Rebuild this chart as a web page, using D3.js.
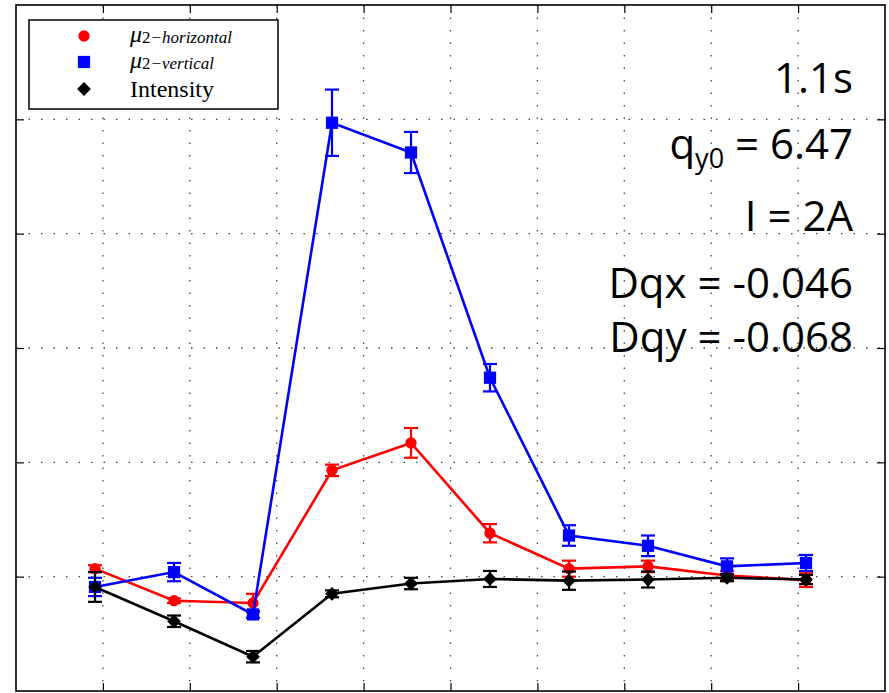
<!DOCTYPE html>
<html>
<head>
<meta charset="utf-8">
<script src="https://cdn.jsdelivr.net/npm/d3@7"></script>
<style>
  body { margin: 0; background: #fff; }
  .grid line { stroke: #444; stroke-width: 1.3; stroke-dasharray: 1.5 11; }
</style>
</head>
<body>
<div id="chart"></div>
<script>
// plot box inside the 889x693 window
const MARGINS = { left: 16, right: 4, top: 5, bottom: 2 };
const FRAME_WIDTH = 889;
const FRAME_HEIGHT = 693;
const VIS_WIDTH = FRAME_WIDTH - MARGINS.left - MARGINS.right;
const VIS_HEIGHT = FRAME_HEIGHT - MARGINS.top - MARGINS.bottom;

// data
const X_VALUES = [1, 2, 3, 4, 5, 6, 7, 8, 9, 10];
const HORIZONTAL = [0.07, -0.21, -0.23, 0.93, 1.17, 0.38, 0.07, 0.09, 0.01, -0.03];
const HORIZONTAL_ERR = [0.03, 0.02, 0.08, 0.05, 0.13, 0.08, 0.07, 0.05, 0.04, 0.06];
const VERTICAL = [-0.09, 0.04, -0.33, 3.97, 3.71, 1.74, 0.36, 0.27, 0.09, 0.12];
const VERTICAL_ERR = [0.08, 0.08, 0.03, 0.29, 0.18, 0.12, 0.09, 0.09, 0.07, 0.07];
const INTENSITY = [-0.09, -0.39, -0.70, -0.15, -0.06, -0.02, -0.035, -0.025, -0.01, -0.025];
const INTENSITY_ERR = [0.13, 0.05, 0.05, 0.03, 0.05, 0.07, 0.08, 0.07, 0.03, 0.04];

const X_TICKS = [1.1, 2.2, 3.3, 4.4, 5.5, 6.6, 7.7, 8.8, 9.9];
const Y_TICKS = [0, 1, 2, 3, 4];

const ANNOTATIONS = ["1.1s", "q_y0 = 6.47", "I = 2A", "Dqx = -0.046", "Dqy = -0.068"];

const FRAME = d3.select("#chart")
    .append("svg")
    .attr("width", FRAME_WIDTH)
    .attr("height", FRAME_HEIGHT);

const xScale = d3.scaleLinear().domain([0, 11]).range([0, VIS_WIDTH]);
const yScale = d3.scaleLinear().domain([-1, 5]).range([VIS_HEIGHT, 0]);

const PLOT = FRAME.append("g")
    .attr("transform", "translate(" + MARGINS.left + "," + MARGINS.top + ")");

// dotted grid
PLOT.append("g").attr("class", "grid")
    .selectAll("line.v").data(X_TICKS).enter().append("line")
    .attr("x1", d => xScale(d)).attr("x2", d => xScale(d))
    .attr("y1", 0).attr("y2", VIS_HEIGHT);
PLOT.append("g").attr("class", "grid")
    .selectAll("line.h").data(Y_TICKS).enter().append("line")
    .attr("y1", d => yScale(d)).attr("y2", d => yScale(d))
    .attr("x1", 0).attr("x2", VIS_WIDTH);

// axes with inward ticks, no labels
function tickAxis(axis, transform) {
    PLOT.append("g")
        .attr("transform", transform)
        .call(axis.tickSize(-8).tickFormat(""))
        .call(g => g.select(".domain").remove())
        .selectAll("line").attr("stroke", "#000").attr("stroke-width", 1.2);
}
tickAxis(d3.axisBottom(xScale).tickValues(X_TICKS), "translate(0," + VIS_HEIGHT + ")");
tickAxis(d3.axisTop(xScale).tickValues(X_TICKS), "translate(0,0)");
tickAxis(d3.axisLeft(yScale).tickValues(Y_TICKS), "translate(0,0)");
tickAxis(d3.axisRight(yScale).tickValues(Y_TICKS), "translate(" + VIS_WIDTH + ",0)");

PLOT.append("rect")
    .attr("width", VIS_WIDTH).attr("height", VIS_HEIGHT)
    .attr("fill", "none").attr("stroke", "#000").attr("stroke-width", 1.6);

// diamond = square turned 45 degrees
const SERIES = [
    { name: "horizontal", values: HORIZONTAL, err: HORIZONTAL_ERR, color: "#ff0000", symbol: d3.symbolCircle, size: 100, rot: 0 },
    { name: "vertical", values: VERTICAL, err: VERTICAL_ERR, color: "#0000ff", symbol: d3.symbolSquare, size: 150, rot: 0 },
    { name: "Intensity", values: INTENSITY, err: INTENSITY_ERR, color: "#000000", symbol: d3.symbolSquare, size: 95, rot: 45 }
];

const line = d3.line().x(d => xScale(d.x)).y(d => yScale(d.y));

SERIES.forEach(s => {
    const pts = X_VALUES.map((x, i) => ({ x: x, y: s.values[i], e: s.err[i] }));
    const g = PLOT.append("g");

    // error bars
    const eb = g.selectAll(".err").data(pts).enter().append("g")
        .attr("stroke", s.color).attr("stroke-width", 2.2);
    eb.append("line")
        .attr("x1", d => xScale(d.x)).attr("x2", d => xScale(d.x))
        .attr("y1", d => yScale(d.y - d.e)).attr("y2", d => yScale(d.y + d.e));
    eb.append("line")
        .attr("x1", d => xScale(d.x) - 7).attr("x2", d => xScale(d.x) + 7)
        .attr("y1", d => yScale(d.y + d.e)).attr("y2", d => yScale(d.y + d.e));
    eb.append("line")
        .attr("x1", d => xScale(d.x) - 7).attr("x2", d => xScale(d.x) + 7)
        .attr("y1", d => yScale(d.y - d.e)).attr("y2", d => yScale(d.y - d.e));

    g.append("path").datum(pts)
        .attr("d", line)
        .attr("fill", "none").attr("stroke", s.color).attr("stroke-width", 2.6);

    g.selectAll(".mark").data(pts).enter().append("path")
        .attr("d", d3.symbol().type(s.symbol).size(s.size))
        .attr("transform", d => "translate(" + xScale(d.x) + "," + yScale(d.y) + ") rotate(" + s.rot + ")")
        .attr("fill", s.color);
});

// legend
const LEGEND = FRAME.append("g");
LEGEND.append("rect")
    .attr("x", 29).attr("y", 20).attr("width", 249).attr("height", 89)
    .attr("fill", "#fff").attr("stroke", "#000").attr("stroke-width", 1.5);

const legendRows = [36, 62, 89];
SERIES.forEach((s, i) => {
    LEGEND.append("path")
        .attr("d", d3.symbol().type(s.symbol).size(s.size))
        .attr("transform", "translate(84," + legendRows[i] + ") rotate(" + s.rot + ")")
        .attr("fill", s.color);
});
[["horizontal", 42], ["vertical", 68]].forEach(r => {
    const t = LEGEND.append("text")
        .attr("x", 130).attr("y", r[1])
        .attr("font-family", "'Liberation Serif', serif");
    t.append("tspan").attr("font-size", 24).attr("font-style", "italic").text("\u03bc");
    t.append("tspan").attr("font-size", 17).attr("dy", 1).text("2");
    t.append("tspan").attr("font-size", 17).attr("font-style", "italic").text("\u2212" + r[0]);
});
LEGEND.append("text")
    .attr("x", 130).attr("y", 97)
    .attr("font-family", "'Liberation Serif', serif")
    .attr("font-size", 24)
    .text("Intensity");

// annotations, right aligned
const annBase = [93, 159, 231, 298, 352];
const ANN = FRAME.append("g")
    .attr("font-family", "'Open Sans', sans-serif")
    .attr("font-size", 42)
    .attr("fill", "#000")
    .attr("text-anchor", "end");
ANNOTATIONS.forEach((txt, i) => {
    const t = ANN.append("text").attr("x", 853).attr("y", annBase[i]);
    if (txt.indexOf("_") >= 0) {
        const parts = txt.split(" = ");
        const sub = parts[0].split("_");
        t.append("tspan").text(sub[0]);
        t.append("tspan").attr("font-size", 27).attr("dy", 9).text(sub[1]);
        t.append("tspan").attr("dy", -9).text(" = " + parts[1]);
    } else {
        t.text(txt);
    }
});
</script>
</body>
</html>
